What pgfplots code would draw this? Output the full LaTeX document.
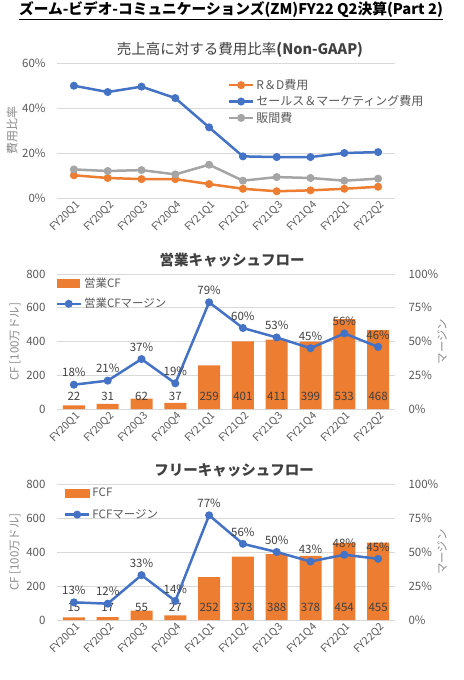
\documentclass[border=0pt]{standalone}
\usepackage{fontspec}
\setmainfont{Noto Sans CJK JP}
\usepackage{pgfplots}
\pgfplotsset{compat=1.18}
\usepackage{pgfplotstable}

\definecolor{cOr}{HTML}{ED7D31}
\definecolor{cBl}{HTML}{4472C4}
\definecolor{cGr}{HTML}{A5A5A5}
\definecolor{cTx}{HTML}{595959}
\definecolor{cTt}{HTML}{404040}
\definecolor{cGrid}{HTML}{D9D9D9}
\definecolor{cLab}{HTML}{8C8C8C}

\newcommand{\fs}[1]{\fontsize{#1}{#1}\selectfont}

\pgfplotstableread{
x sm rd sga
0 49.9 10.1 12.7
1 47.1 8.9 12.0
2 49.5 8.4 12.4
3 44.4 8.4 10.5
4 31.4 6.2 14.8
5 18.5 4.1 7.7
6 18.2 3.0 9.3
7 18.2 3.4 8.9
8 20.0 4.1 7.7
9 20.4 5.0 8.6
}\costtable

\pgfplotstableread{
x cf m
0 22 18
1 31 21
2 62 37
3 37 19
4 259 79
5 401 60
6 411 53
7 399 45
8 533 56
9 468 46
}\ocftable

\pgfplotstableread{
x cf m
0 15 13
1 17 12
2 55 33
3 27 14
4 252 77
5 373 56
6 388 50
7 378 43
8 454 48
9 455 45
}\fcftable

\pgfplotsset{
  base/.style={
    scale only axis, width=338bp,
    xmin=-0.5, xmax=9.5,
    axis line style={draw=none},
    tick style={draw=none},
    /pgf/number format/assume math mode=true,
    tick label style={font=\fs{11.5bp}, text=cTx},
  },
  cat/.style={
    xtick={0,...,9},
    xticklabels={FY20Q1,FY20Q2,FY20Q3,FY20Q4,FY21Q1,FY21Q2,FY21Q3,FY21Q4,FY22Q1,FY22Q2},
    xticklabel style={rotate=45, anchor=east, font=\fs{10.5bp}, text=cTx, yshift=-7bp, xshift=3bp},
    yticklabel style={xshift=-8bp},
    ymajorgrids, grid style={cGrid, line width=0.8bp},
  },
  rgt/.style={yticklabel style={xshift=10bp}},
  ln/.style={line width=2.5bp, mark=*, mark size=2.7bp, mark options={solid}},
  lineleg/.style={legend image code/.code={
     \draw[##1, mark repeat=2, mark phase=2] plot coordinates {(0bp,0bp) (12bp,0bp) (24bp,0bp)};}},
}

\begin{document}
\begin{tikzpicture}
\path[use as bounding box] (0bp,0bp) rectangle (464bp,-680bp);

% main title
\node[font=\bfseries\fs{14.7bp}, text=black, inner sep=0pt] at (231bp,-11bp)
  {\underline{ズーム-ビデオ-コミュニケーションズ(ZM)FY22 Q2決算(Part 2)}};

% ---------------- chart 1 ----------------
\node[font=\fs{14.5bp}, text=cTt, inner sep=0pt] at (240bp,-50bp)
  {売上高に対する費用比率\textbf{(Non-GAAP)}};
\begin{axis}[base, cat,
  at={(57bp,-198bp)}, anchor=south west, height=135bp,
  ymin=0, ymax=60, ytick={0,20,40,60},
  yticklabel={\pgfmathprintnumber{\tick}\%},
  ylabel={費用比率},
  ylabel style={at={(axis description cs:-0.133,0.5)}, anchor=center, font=\fs{12bp}, text=cLab},
  legend style={at={(0.505,0.895)}, anchor=north west, draw=none, fill=none,
    font=\fs{12bp}, text=cTx, row sep=0.8bp, inner sep=0pt},
  legend cell align=left,
]
\addplot[lineleg, ln, cOr] table[x=x, y=rd] {\costtable};
\addlegendentry{R＆D費用}
\addplot[lineleg, ln, cBl] table[x=x, y=sm] {\costtable};
\addlegendentry{セールス＆マーケティング費用}
\addplot[lineleg, ln, cGr] table[x=x, y=sga] {\costtable};
\addlegendentry{販間費}
\end{axis}

% ---------------- chart 2 ----------------
\node[font=\bfseries\fs{14.5bp}, text=cTt, inner sep=0pt] at (232bp,-260bp)
  {営業キャッシュフロー};
\begin{axis}[base, cat,
  at={(57bp,-409bp)}, anchor=south west, height=135bp,
  ymin=0, ymax=800, ytick={0,200,400,600,800},
  ylabel={CF [100万ドル]},
  ylabel style={at={(axis description cs:-0.124,0.5)}, anchor=center, font=\fs{11.5bp}, text=cLab},
]
\addplot[ybar, bar width=22bp, fill=cOr, draw=none] table[x=x, y=cf] {\ocftable};
\addplot[draw=none, mark=none, forget plot, point meta=explicit,
  nodes near coords, nodes near coords style={font=\fs{11.5bp}, text=cTt, anchor=center}]
  table[x=x, y expr=75, meta=cf] {\ocftable};
\end{axis}
\begin{axis}[base, rgt,
  at={(57bp,-409bp)}, anchor=south west, height=135bp,
  axis y line*=right, axis x line=none,
  xtick=\empty,
  ymin=0, ymax=100, ytick={0,25,50,75,100},
  yticklabel={\pgfmathprintnumber{\tick}\%},
  ylabel={マージン},
  ylabel style={at={(axis description cs:1.139,0.5)}, anchor=center, font=\fs{11.5bp}, text=cLab},
  legend style={at={(-0.005,0.99)}, anchor=north west, draw=none, fill=none,
    font=\fs{11.5bp}, text=cTx, row sep=5.5bp, inner sep=0pt},
  legend cell align=left,
]
\addlegendimage{legend image code/.code={\fill[cOr] (0bp,-3.7bp) rectangle (22bp,3.7bp);}}
\addlegendentry{営業CF}
\addplot[lineleg, ln, cBl, point meta=y,
  nodes near coords={\pgfmathprintnumber{\pgfplotspointmeta}\%},
  nodes near coords style={font=\fs{11.5bp}, text=cTt, anchor=south, yshift=3bp}]
  table[x=x, y=m] {\ocftable};
\addlegendentry{営業CFマージン}
\end{axis}

% ---------------- chart 3 ----------------
\node[font=\bfseries\fs{14.5bp}, text=cTt, inner sep=0pt] at (234bp,-470bp)
  {フリーキャッシュフロー};
\begin{axis}[base, cat,
  at={(57bp,-620bp)}, anchor=south west, height=136bp,
  ymin=0, ymax=800, ytick={0,200,400,600,800},
  ylabel={CF [100万ドル]},
  ylabel style={at={(axis description cs:-0.124,0.5)}, anchor=center, font=\fs{11.5bp}, text=cLab},
]
\addplot[ybar, bar width=22bp, fill=cOr, draw=none] table[x=x, y=cf] {\fcftable};
\addplot[draw=none, mark=none, forget plot, point meta=explicit,
  nodes near coords, nodes near coords style={font=\fs{11.5bp}, text=cTt, anchor=center}]
  table[x=x, y expr=75, meta=cf] {\fcftable};
\end{axis}
\begin{axis}[base, rgt,
  at={(57bp,-620bp)}, anchor=south west, height=136bp,
  axis y line*=right, axis x line=none,
  xtick=\empty,
  ymin=0, ymax=100, ytick={0,25,50,75,100},
  yticklabel={\pgfmathprintnumber{\tick}\%},
  ylabel={マージン},
  ylabel style={at={(axis description cs:1.139,0.5)}, anchor=center, font=\fs{11.5bp}, text=cLab},
  legend style={at={(0.02,0.985)}, anchor=north west, draw=none, fill=none,
    font=\fs{11.5bp}, text=cTx, row sep=7bp, inner sep=0pt},
  legend cell align=left,
]
\addlegendimage{legend image code/.code={\fill[cOr] (0bp,-3.7bp) rectangle (24bp,3.7bp);}}
\addlegendentry{FCF}
\addplot[lineleg, ln, cBl, point meta=y,
  nodes near coords={\pgfmathprintnumber{\pgfplotspointmeta}\%},
  nodes near coords style={font=\fs{11.5bp}, text=cTt, anchor=south, yshift=3bp}]
  table[x=x, y=m] {\fcftable};
\addlegendentry{FCFマージン}
\end{axis}
\end{tikzpicture}
\end{document}
